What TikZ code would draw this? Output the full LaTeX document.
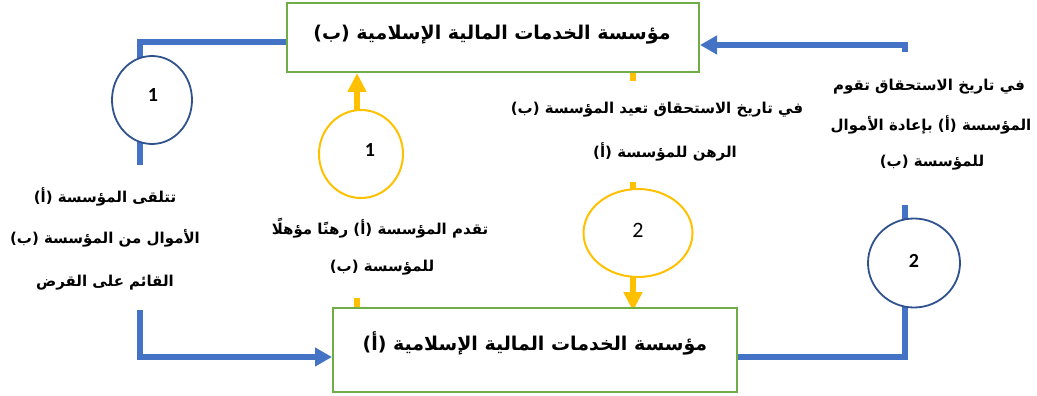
\documentclass[tikz,border=0pt]{standalone}
\usepackage{fontspec}
\setmainfont{Carlito}
\newfontfamily\arabicfont[Script=Arabic]{DejaVu Sans}
\TeXXeTstate=1
\usetikzlibrary{shapes.geometric,arrows.meta}
\definecolor{bluel}{HTML}{4472C4}
\definecolor{bluec}{HTML}{2F528F}
\definecolor{yel}{HTML}{FFC000}
\definecolor{grn}{HTML}{70AD47}
\pgfdeclarelayer{bg}
\pgfsetlayers{bg,main}
\begin{document}
\begin{tikzpicture}[x=1pt,y=-1pt,
  box/.style={draw=grn,line width=2pt,fill=white,inner sep=0pt},
  ar/.style={font=\arabicfont\bfseries\fontsize{15}{18}\selectfont,inner sep=0pt},
  arbig/.style={font=\arabicfont\bfseries\fontsize{19}{22}\selectfont,inner sep=0pt},
  bcirc/.style={ellipse,draw=bluec,line width=1.8pt,fill=white,inner sep=0pt},
  ycirc/.style={ellipse,draw=yel,line width=2pt,fill=white,inner sep=0pt},
  num/.style={font=\bfseries\fontsize{20}{22}\selectfont,inner sep=0pt},
  numr/.style={font=\fontsize{22}{24}\selectfont,inner sep=0pt},
  bline/.style={draw=bluel,line width=5.5pt},
  yline/.style={draw=yel,line width=5.5pt},
  bhead/.style={-{Triangle[length=17pt,width=18pt]}},
  yhead/.style={-{Triangle[length=19pt,width=18pt]}}
]
\useasboundingbox (0,0) rectangle (1037,396);
% boxes
\node[box,minimum width=412pt,minimum height=69pt] (topbox) at (493,37.5) {};
\node[box,minimum width=404pt,minimum height=84pt] (botbox) at (535,350) {};
\node[arbig] (toptext) at (492,35) {\beginR مؤسسة الخدمات المالية الإسلامية (ب)\endR};
\node[arbig] (bottext) at (535,343) {\beginR مؤسسة الخدمات المالية الإسلامية (أ)\endR};
% circles
\node[bcirc,minimum width=80pt,minimum height=88pt] (c1L) at (152,100) {};
\node[num] (n1L) at (153,95) {1};
\node[ycirc,minimum width=84pt,minimum height=88pt] (c1Y) at (361,154) {};
\node[num] (n1Y) at (370,150) {1};
\node[ycirc,minimum width=109pt,minimum height=88pt] (c2Y) at (638,233) {};
\node[numr] (n2Y) at (638,230) {2};
\node[bcirc,minimum width=92pt,minimum height=89pt] (c2R) at (914,263) {};
\node[num] (n2R) at (914,261) {2};
% coordinates
\coordinate (L1) at (140,42);
\coordinate (L2) at (140,165);
\coordinate (L3) at (140,310);
\coordinate (L4) at (140,357);
\coordinate (R1) at (905,357);
\coordinate (R2) at (905,205);
\coordinate (R3) at (905,52);
\coordinate (R4) at (905,45);
\coordinate (Y1a) at (357,298);
\coordinate (Y2a) at (633,81);
\coordinate (Y2b) at (633,182);
\begin{pgfonlayer}{bg}
  \draw[bline] (topbox.west |- L1) -- (L1) -- (L2);
  \draw[bline,bhead] (L3) -- (L4) -- (botbox.west |- L4);
  \draw[bline] (botbox.east |- R1) -- (R1) -- (R2);
  \draw[bline,bhead] (R3) -- (R4) -- (topbox.east |- R4);
  \draw[yline,yhead] (c1Y.center -| 357,0) -- (topbox.south -| 357,0);
  \draw[yline] (Y1a) -- (botbox.north -| Y1a);
  \draw[yline] (topbox.south -| Y2a) -- (Y2a);
  \draw[yline] (Y2b) -- (c2Y.center -| Y2b);
  \draw[yline,yhead] (c2Y.center -| Y2b) -- ([yshift=-4pt]botbox.north -| Y2b);
\end{pgfonlayer}
% texts
\node[ar] (tl1) at (105,197) {\beginR تتلقى المؤسسة (أ)\endR};
\node[ar] (tl2) at (105,238) {\beginR الأموال من المؤسسة (ب)\endR};
\node[ar] (tl3) at (105,283) {\beginR القائم على القرض\endR};
\node[ar] (tm1) at (380,228) {\beginR تقدم المؤسسة (أ) رهنًا مؤهلًا\endR};
\node[ar] (tm2) at (382,268) {\beginR للمؤسسة (ب)\endR};
\node[ar] (tn1) at (657,110) {\beginR في تاريخ الاستحقاق تعيد المؤسسة (ب)\endR};
\node[ar] (tn2) at (665,152) {\beginR الرهن للمؤسسة (أ)\endR};
\node[ar] (tr1) at (929,87) {\beginR في تاريخ الاستحقاق تقوم\endR};
\node[ar] (tr2) at (931,125) {\beginR المؤسسة (أ) بإعادة الأموال\endR};
\node[ar] (tr3) at (932,163) {\beginR للمؤسسة (ب)\endR};
\end{tikzpicture}
\end{document}
